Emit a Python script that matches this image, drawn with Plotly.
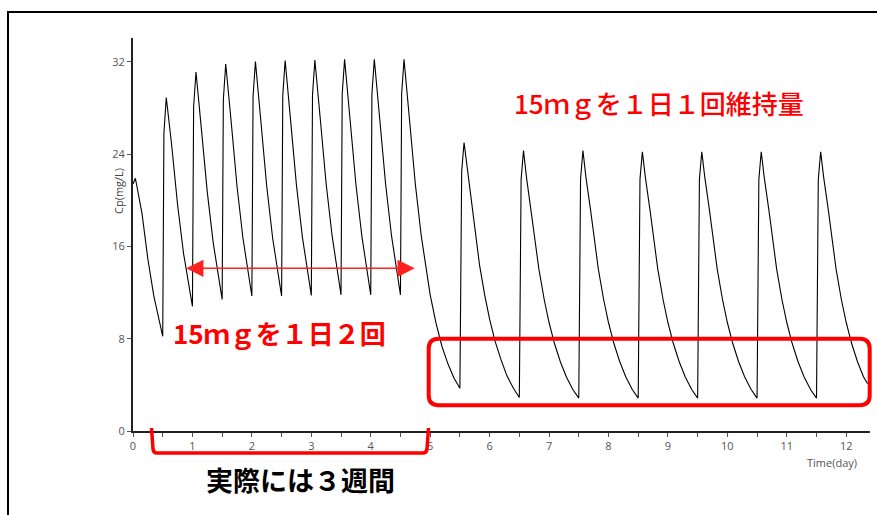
import plotly.graph_objects as go

# ---- data (time in days, Cp in mg/L) ----
bid_time = [0, 0.04, 0.15, 0.25, 0.35,
            0.5, 0.52, 0.56, 0.65, 0.75, 0.85,
            1.0, 1.02, 1.06, 1.15, 1.25, 1.35,
            1.5, 1.52, 1.56, 1.65, 1.75, 1.85,
            2.0, 2.02, 2.06, 2.15, 2.25, 2.35,
            2.5, 2.52, 2.56, 2.65, 2.75, 2.85,
            3.0, 3.02, 3.06, 3.15, 3.25, 3.35,
            3.5, 3.52, 3.56, 3.65, 3.75, 3.85,
            4.0, 4.02, 4.06, 4.15, 4.25, 4.35,
            4.5, 4.52, 4.56, 4.65, 4.75, 4.85,
            5.0, 5.1, 5.2, 5.3, 5.4]
bid_cp = [21.4, 21.9, 18.9, 14.9, 11.7,
          8.2, 25.8, 28.9, 24.8, 19.6, 15.4,
          10.8, 28.1, 31.1, 26.2, 20.7, 16.3,
          11.4, 28.7, 31.8, 26.9, 21.2, 16.7,
          11.7, 29.0, 32.0, 26.9, 21.2, 16.7,
          11.7, 29.1, 32.1, 27.0, 21.3, 16.8,
          11.75, 29.1, 32.15, 27.1, 21.4, 16.9,
          11.8, 29.2, 32.2, 27.1, 21.4, 16.9,
          11.8, 29.2, 32.2, 27.1, 21.4, 16.9,
          11.8, 29.2, 32.2, 27.1, 21.4, 16.9,
          11.8, 9.3, 7.3, 5.8, 4.6]

daily_time = [5.5, 5.53, 5.57, 5.62, 5.7, 5.83, 5.92, 6.0, 6.09, 6.19, 6.29, 6.4,
              6.5, 6.53, 6.57, 6.62, 6.7, 6.83, 6.92, 7.0, 7.09, 7.19, 7.29, 7.4,
              7.5, 7.53, 7.57, 7.62, 7.7, 7.83, 7.92, 8.0, 8.09, 8.19, 8.29, 8.4,
              8.5, 8.53, 8.57, 8.62, 8.7, 8.83, 8.92, 9.0, 9.09, 9.19, 9.29, 9.4,
              9.5, 9.53, 9.57, 9.62, 9.7, 9.83, 9.92, 10.0, 10.09, 10.19, 10.29, 10.4,
              10.5, 10.53, 10.57, 10.62, 10.7, 10.83, 10.92, 11.0, 11.09, 11.19, 11.29, 11.4,
              11.5, 11.53, 11.57, 11.62, 11.7, 11.83, 11.92, 12.0, 12.09, 12.19, 12.29, 12.36]
daily_cp = [3.7, 22.5, 25.0, 22.8, 19.7, 14.4, 11.7, 9.7, 7.8, 6.2, 4.8, 3.7,
            2.9, 21.8, 24.3, 22.0, 19.1, 14.0, 11.35, 9.4, 7.6, 6.0, 4.7, 3.6,
            2.85, 21.8, 24.3, 22.0, 19.1, 14.0, 11.35, 9.4, 7.6, 6.0, 4.7, 3.6,
            2.85, 21.8, 24.2, 22.0, 19.1, 14.0, 11.35, 9.4, 7.6, 6.0, 4.7, 3.6,
            2.85, 21.8, 24.2, 22.0, 19.1, 14.0, 11.35, 9.4, 7.6, 6.0, 4.7, 3.6,
            2.85, 21.8, 24.2, 22.0, 19.1, 14.0, 11.35, 9.4, 7.6, 6.0, 4.7, 3.6,
            2.85, 21.8, 24.2, 22.0, 19.1, 14.0, 11.35, 9.4, 7.6, 6.0, 4.7, 4.1]

y_ticks = [0, 8, 16, 24, 32]
x_ticks = list(range(0, 13))

label_bid = "15ｍｇを１日２回"
label_daily = "15ｍｇを１日１回維持量"
label_period = "実際には３週間"

time = bid_time + daily_time
cp = bid_cp + daily_cp

fig = go.Figure()
fig.add_trace(go.Scatter(x=time, y=cp, mode="lines",
                         line=dict(color="black", width=1.1),
                         hoverinfo="skip", showlegend=False))

tick_font = dict(family="Open Sans, Noto Sans, sans-serif", size=11, color="#555555")
jp = "Noto Sans CJK JP"

fig.update_layout(
    width=877, height=515,
    margin=dict(l=133, r=7, t=38, b=84),
    paper_bgcolor="white", plot_bgcolor="white",
    showlegend=False,
    xaxis=dict(range=[0, 12.4], tickvals=x_ticks, ticks="outside", ticklen=4,
               tickcolor="#555555", showgrid=False, zeroline=False,
               showline=True, linecolor="#222222", linewidth=2,
               tickfont=tick_font,
               minor=dict(dtick=0.5, ticks="outside", ticklen=4, tickcolor="#555555", showgrid=False)),
    yaxis=dict(range=[0, 34.05], tickvals=y_ticks, ticks="outside", ticklen=4,
               tickcolor="#555555", showgrid=False, zeroline=False,
               showline=True, linecolor="#222222", linewidth=2,
               tickfont=tick_font),
)

def px_x(p):
    return (p - 133) / 737.0

def px_y(p):
    return (431 - p) / 393.0

# outer frame
fig.add_shape(type="rect", xref="paper", yref="paper",
              x0=px_x(8), x1=px_x(890), y0=px_y(530), y1=px_y(12),
              line=dict(color="black", width=2), layer="below")

# rounded red box
x0, x1, y0, y1 = px_x(428.7), px_x(869.7), px_y(405.3), px_y(338.7)
rx, ry = 10 / 737.0, 10 / 393.0
path = (f"M {x0+rx},{y1} L {x1-rx},{y1} Q {x1},{y1} {x1},{y1-ry} "
        f"L {x1},{y0+ry} Q {x1},{y0} {x1-rx},{y0} L {x0+rx},{y0} "
        f"Q {x0},{y0} {x0},{y0+ry} L {x0},{y1-ry} Q {x0},{y1} {x0+rx},{y1} Z")
fig.add_shape(type="path", xref="paper", yref="paper", path=path,
              line=dict(color="#ff0000", width=4))

# red bracket under x axis
bpath = (f"M {px_x(151.5)},{px_y(428)} L {px_x(153)},{px_y(449)} "
         f"Q {px_x(153.5)},{px_y(453)} {px_x(157)},{px_y(453)} "
         f"L {px_x(423)},{px_y(453)} Q {px_x(426.5)},{px_y(453)} {px_x(427)},{px_y(449)} "
         f"L {px_x(428.5)},{px_y(428)}")
fig.add_shape(type="path", xref="paper", yref="paper", path=bpath,
              line=dict(color="#ff0000", width=3.5))

# double-headed arrow
fig.add_annotation(x=4.74, y=14.1, ax=0.87, ay=14.1, xref="x", yref="y",
                   axref="x", ayref="y", text="", showarrow=True,
                   arrowhead=2, startarrowhead=2, arrowside="end+start",
                   arrowsize=2.3, startarrowsize=2.3, arrowwidth=1.5,
                   arrowcolor="#ff2020", standoff=0, startstandoff=0)

common = dict(xref="paper", yref="paper", showarrow=False,
              xanchor="center", yanchor="middle")
fig.add_annotation(x=px_x(659), y=px_y(102), text=label_daily,
                   font=dict(family=jp, size=26, color="#ff0000", weight=500), **common)
fig.add_annotation(x=px_x(279), y=px_y(332), text=label_bid,
                   font=dict(family=jp, size=26, color="#ff0000", weight="bold"), **common)
fig.add_annotation(x=px_x(300.5), y=px_y(479), text=label_period,
                   font=dict(family=jp, size=27, color="black", weight="bold"), **common)

fig.add_annotation(x=px_x(832), y=px_y(462), text="Time(day)",
                   font=dict(family="Open Sans, Noto Sans, sans-serif", size=11, color="#555555"),
                   **common)
fig.add_annotation(x=px_x(118), y=px_y(191), text="Cp(mg/L)", textangle=-90,
                   font=dict(family="Open Sans, Noto Sans, sans-serif", size=11, color="#444444"),
                   **common)

fig.write_html("out.html", config={"displayModeBar": False},
               post_script="document.body.style.margin='0';")
